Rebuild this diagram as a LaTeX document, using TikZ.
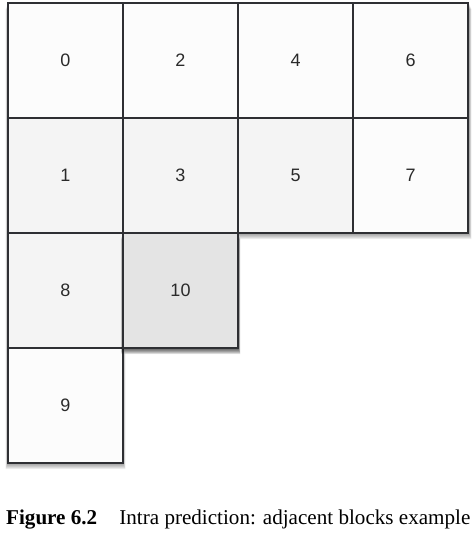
\documentclass[tikz,border=0pt]{standalone}
\usepackage{fontspec}
\usetikzlibrary{calc}
\setmainfont{Liberation Serif}
\newfontfamily\cellfont{Liberation Sans}
\definecolor{linec}{HTML}{2E2F33}
\definecolor{textc}{HTML}{2A2A2A}
\definecolor{whitec}{HTML}{FCFCFC}
\definecolor{grayc}{HTML}{F4F4F4}
\definecolor{darkc}{HTML}{E4E4E4}
\tikzset{
  cell/.style={draw=linec, line width=1.2pt, minimum size=115pt, inner sep=0pt,
    font=\cellfont\fontsize{18}{18}\selectfont, text=textc},
  wcell/.style={cell, fill=whitec},
  gcell/.style={cell, fill=grayc},
  hcell/.style={cell, fill=darkc, line width=2.8pt},
  shadowlayer/.style={fill=black, opacity=0.075}
}
\begin{document}
\begin{tikzpicture}[x=1pt,y=-1pt]
\useasboundingbox (0,0) rectangle (475,537);
% shadow of the whole L-shape
\foreach \d in {1,2,3,4,5,6}{
  \fill[shadowlayer] ($(8,3)+(-\d*0.4,\d)$) -- ($(469,3)+(\d*0.4,\d)$) -- ($(469,233)+(\d*0.4,\d)$)
    -- ($(238,233)+(\d*0.4,\d)$) -- ($(238,348)+(\d*0.4,\d)$) -- ($(123,348)+(\d*0.4,\d)$)
    -- ($(123,463)+(\d*0.4,\d)$) -- ($(8,463)+(-\d*0.4,\d)$) -- cycle;
}
\node[wcell] (c0) at (65.5,60.5) {0};
\node[wcell] (c2) at (180.5,60.5) {2};
\node[wcell] (c4) at (295.5,60.5) {4};
\node[wcell] (c6) at (410.5,60.5) {6};
\node[gcell] (c1) at (65.5,175.5) {1};
\node[gcell] (c3) at (180.5,175.5) {3};
\node[gcell] (c5) at (295.5,175.5) {5};
\node[wcell] (c7) at (410.5,175.5) {7};
\node[gcell] (c8) at (65.5,290.5) {8};
\node[wcell] (c9) at (65.5,405.5) {9};
% shadow of the highlighted block
\foreach \d in {1,2,3,4,5,6}{
  \fill[shadowlayer] ($(123,233)+(-\d*0.4,\d)$) rectangle ($(238,348)+(\d*0.4,\d)$);
}
\node[hcell] (c10) at (180.5,290.5) {10};
\node[anchor=base west, inner sep=0pt, font=\fontsize{21.1}{21}\selectfont] (cap) at (6,524)
  {\textbf{Figure 6.2}\hspace{1.05em}Intra prediction: adjacent blocks example};
\end{tikzpicture}
\end{document}
